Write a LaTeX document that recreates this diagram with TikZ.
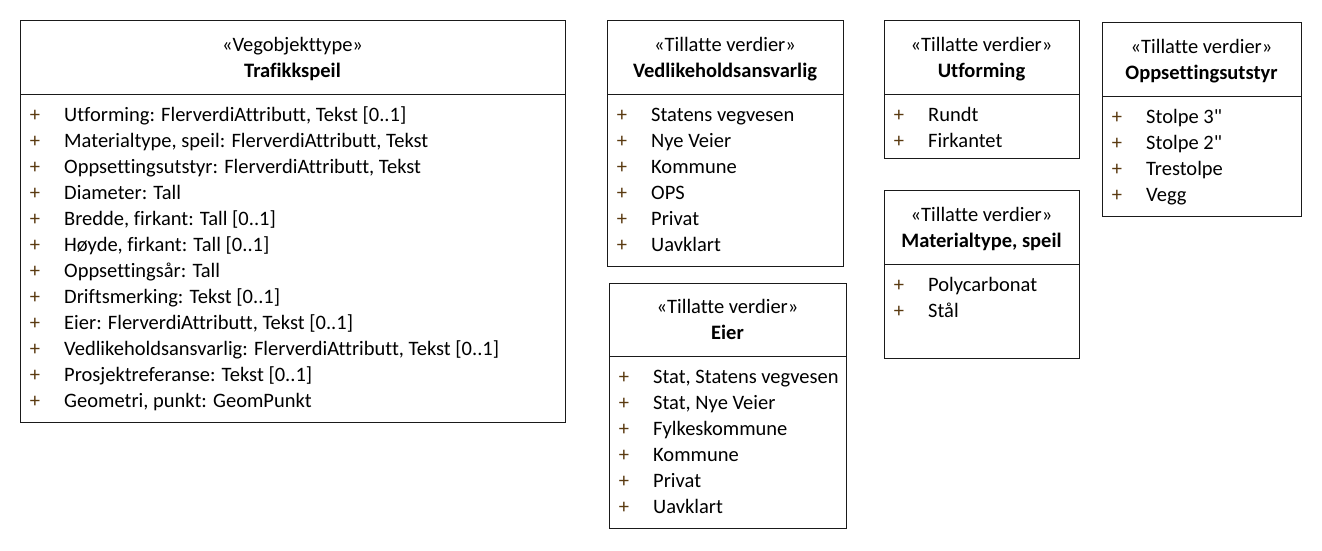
\documentclass[tikz,border=0pt]{standalone}
\usepackage{fontspec}
\setmainfont{Carlito}[Ligatures={NoCommon}]
\definecolor{plusbrown}{HTML}{5A3A10}
\definecolor{framegray}{HTML}{1A1A1A}
\newcommand\umlfont{\fontsize{20.5}{25}\selectfont}
% straight double quote, set as a glyph so no input mapping curls it
\newcommand\inchmark{\XeTeXglyph\XeTeXcharglyph"22\relax}
\tikzset{
  frame/.style={draw=framegray, line width=1pt},
  boxframe/.style={frame, fill=white, inner sep=0pt, outer sep=0pt, anchor=north west},
  stereo/.style={anchor=base, inner sep=0pt, font=\umlfont},
  classname/.style={stereo, font=\umlfont\bfseries},
  plus/.style={anchor=base, inner sep=0pt, text=plusbrown, font=\umlfont},
  item/.style={anchor=base west, inner sep=0pt, font=\umlfont},
}
% #1 name, #2 left, #3 top, #4 right, #5 bottom, #6 divider y,
% #7 stereotype, #8 class name, #9 attribute list
\newcommand\umlclass[9]{%
  \node[boxframe, minimum width=#4-#2, minimum height=#5-#3] (#1) at (#2,#3) {};
  \draw[frame] (#2,#6) -- (#4,#6);
  \node[stereo] (#1-st) at ({(#2+#4)/2},#6-43) {«#7»};
  \node[classname] (#1-nm) at ({(#2+#4)/2},#6-17) {#8};
  \foreach \t [count=\i] in {#9} {
    \node[plus] (#1-p\i) at (#2+15,#6+26*\i+1) {+};
    \node[item] (#1-i\i) at (#2+44,#6+26*\i+1) {\t};
  }
}
\begin{document}
\begin{tikzpicture}[x=1pt,y=-1pt]
\useasboundingbox (0,0) rectangle (1322,550);

\umlclass{trafikkspeil}{20}{20}{565}{422}{94}{Vegobjekttype}{Trafikkspeil}{
  {Utforming: FlerverdiAttributt, Tekst [0..1]},
  {Materialtype, speil: FlerverdiAttributt, Tekst},
  {Oppsettingsutstyr: FlerverdiAttributt, Tekst},
  {Diameter: Tall},
  {Bredde, firkant: Tall [0..1]},
  {Høyde, firkant: Tall [0..1]},
  {Oppsettingsår: Tall},
  {Driftsmerking: Tekst [0..1]},
  {Eier: FlerverdiAttributt, Tekst [0..1]},
  {Vedlikeholdsansvarlig: FlerverdiAttributt, Tekst [0..1]},
  {Prosjektreferanse: Tekst [0..1]},
  {Geometri, punkt: GeomPunkt}}

\umlclass{vedlikehold}{607}{20}{843}{266}{94}{Tillatte verdier}{Vedlikeholdsansvarlig}{
  Statens vegvesen, Nye Veier, Kommune, OPS, Privat, Uavklart}

\umlclass{eier}{609}{283}{846}{528}{356}{Tillatte verdier}{Eier}{
  {Stat, Statens vegvesen}, {Stat, Nye Veier}, Fylkeskommune, Kommune, Privat, Uavklart}

\umlclass{utforming}{884}{20}{1079}{158}{94}{Tillatte verdier}{Utforming}{
  Rundt, Firkantet}

\umlclass{materialtype}{884}{190}{1079}{358}{264}{Tillatte verdier}{Materialtype, speil}{
  Polycarbonat, Stål}

\umlclass{oppsetting}{1102}{22}{1301}{216}{96}{Tillatte verdier}{Oppsettingsutstyr}{
  {Stolpe 3\inchmark}, {Stolpe 2\inchmark}, Trestolpe, Vegg}
\end{tikzpicture}
\end{document}
